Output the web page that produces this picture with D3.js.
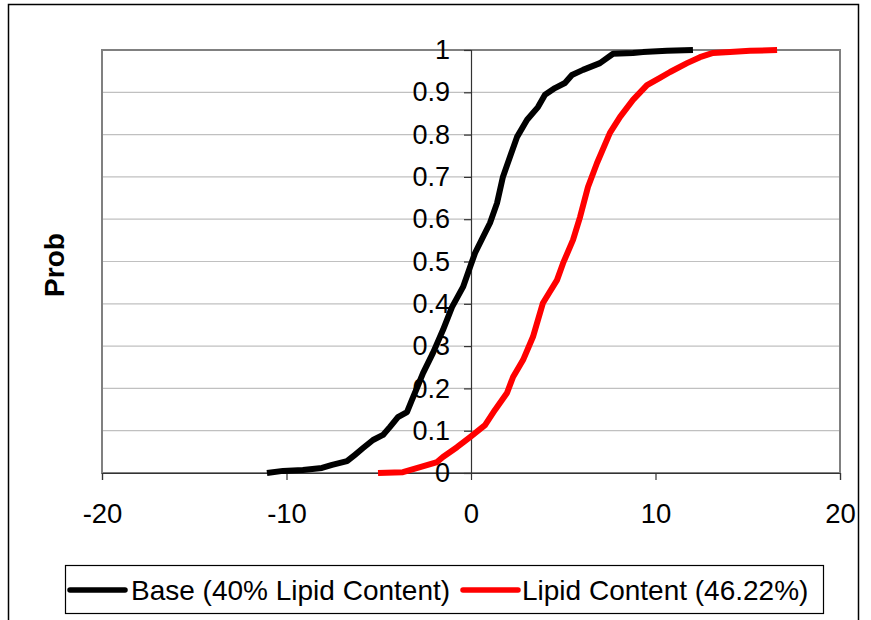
<!DOCTYPE html>
<html>
<head>
<meta charset="utf-8">
<script src="https://cdn.jsdelivr.net/npm/d3@7"></script>
<style>
  html, body { margin: 0; padding: 0; background: #fff; }
  svg { display: block; font-family: "Liberation Sans", Arial, sans-serif; }
</style>
</head>
<body>
<svg id="chart" width="871" height="620"></svg>
<script>
// Cumulative probability curves (x value, cumulative probability)
const baseX = [-11.06, -10.19, -9.11, -8.08, -7.53, -6.72, -6.29, -5.85, -5.31, -4.77, -4.39, -3.96, -3.47, -3.20, -2.93, -2.60, -2.06, -1.52, -1.03, -0.43, -0.05, 0.22, 0.65, 1.03, 1.41, 1.73, 2.11, 2.49, 3.04, 3.63, 4.01, 4.55, 5.09, 5.47, 6.07, 6.99, 7.70, 8.78, 9.32, 10.62, 12.03];
const baseP = [0, 0.005, 0.007, 0.012, 0.019, 0.028, 0.043, 0.059, 0.078, 0.090, 0.109, 0.132, 0.144, 0.173, 0.201, 0.236, 0.284, 0.338, 0.392, 0.440, 0.487, 0.520, 0.558, 0.591, 0.638, 0.700, 0.747, 0.794, 0.835, 0.865, 0.894, 0.910, 0.922, 0.941, 0.953, 0.969, 0.991, 0.993, 0.995, 0.998, 1.0];

const lipidX = [-5.04, -3.69, -2.76, -1.84, -1.52, -0.76, -0.05, 0.76, 1.30, 1.95, 2.28, 2.82, 3.36, 3.90, 4.66, 4.99, 5.53, 5.91, 6.34, 6.83, 7.53, 8.08, 8.78, 9.54, 10.24, 10.79, 11.71, 12.41, 13.12, 14.04, 15.12, 16.59];
const lipidP = [0, 0.002, 0.014, 0.026, 0.038, 0.061, 0.085, 0.113, 0.149, 0.189, 0.227, 0.267, 0.322, 0.402, 0.456, 0.496, 0.551, 0.605, 0.676, 0.733, 0.804, 0.842, 0.882, 0.917, 0.934, 0.948, 0.969, 0.983, 0.993, 0.995, 0.998, 1.0];

const seriesNames = ["Base (40% Lipid Content)", "Lipid Content (46.22%)"];
const seriesColors = ["#000000", "#ff0000"];

const xTicks = [-20, -10, 0, 10, 20];
const yTicks = [0, 0.1, 0.2, 0.3, 0.4, 0.5, 0.6, 0.7, 0.8, 0.9, 1];
const yTickLabels = ["0", "0.1", "0.2", "0.3", "0.4", "0.5", "0.6", "0.7", "0.8", "0.9", "1"];
const xTickLabels = ["-20", "-10", "0", "10", "20"];

const svg = d3.select("#chart");

// outer chart frame
svg.append("rect")
  .attr("x", 8.5).attr("y", 4.5).attr("width", 850).attr("height", 640)
  .attr("fill", "#fff").attr("stroke", "#000").attr("stroke-width", 1.5);

const plot = { left: 102, top: 50, right: 840, bottom: 473 };

const x = d3.scaleLinear().domain([-20, 20]).range([plot.left, plot.right]);
const y = d3.scaleLinear().domain([0, 1]).range([plot.bottom, plot.top]);

// horizontal gridlines
svg.append("g")
  .selectAll("line")
  .data(yTicks.filter(d => d > 0 && d < 1))
  .join("line")
  .attr("x1", plot.left).attr("x2", plot.right)
  .attr("y1", d => y(d)).attr("y2", d => y(d))
  .attr("stroke", "#c0c0c0").attr("stroke-width", 1.2);

// plot area border
svg.append("rect")
  .attr("x", plot.left).attr("y", plot.top)
  .attr("width", plot.right - plot.left).attr("height", plot.bottom - plot.top)
  .attr("fill", "none").attr("stroke", "#808080").attr("stroke-width", 2);

// x axis along p = 0
const xAxis = svg.append("g")
  .attr("transform", `translate(0,${y(0)})`)
  .call(d3.axisBottom(x).tickValues(xTicks).tickFormat((d, i) => xTickLabels[i]).tickSize(7).tickPadding(23));
xAxis.select(".domain").attr("stroke", "#333").attr("stroke-width", 1.2);
xAxis.selectAll(".tick line").attr("stroke", "#333").attr("stroke-width", 1.2);
xAxis.selectAll("text").attr("font-size", 27.5).attr("fill", "#000")
  .attr("font-family", "Liberation Sans, Arial, sans-serif");

// y axis along x = 0
const yAxis = svg.append("g")
  .attr("transform", `translate(${x(0)},0)`)
  .call(d3.axisLeft(y).tickValues(yTicks).tickFormat((d, i) => yTickLabels[i]).tickSize(7).tickPadding(14));
yAxis.select(".domain").attr("stroke", "#333").attr("stroke-width", 1.2);
yAxis.selectAll(".tick line").attr("stroke", "#333").attr("stroke-width", 1.2);
yAxis.selectAll("text").attr("font-size", 27).attr("fill", "#000")
  .attr("font-family", "Liberation Sans, Arial, sans-serif");

// curves
const line = d3.line().x(d => x(d[0])).y(d => y(d[1]));
const series = [
  d3.zip(baseX, baseP),
  d3.zip(lipidX, lipidP)
];
svg.append("g")
  .selectAll("path")
  .data(series)
  .join("path")
  .attr("d", line)
  .attr("fill", "none")
  .attr("stroke", (d, i) => seriesColors[i])
  .attr("stroke-width", 6)
  .attr("stroke-linejoin", "round")
  .attr("stroke-linecap", "butt");

// y axis title
svg.append("text")
  .attr("transform", "translate(64,265) rotate(-90)")
  .attr("text-anchor", "middle")
  .attr("font-size", 28).attr("font-weight", "bold")
  .text("Prob");

// legend
const legend = svg.append("g");
legend.append("rect")
  .attr("x", 65.5).attr("y", 565.5).attr("width", 758).attr("height", 48)
  .attr("fill", "#fff").attr("stroke", "#000").attr("stroke-width", 1.2);
const legendItems = [
  { lx: 70, tx: 131 },
  { lx: 463, tx: 522 }
];
legendItems.forEach((it, i) => {
  legend.append("line")
    .attr("x1", it.lx).attr("x2", it.lx + 55)
    .attr("y1", 590).attr("y2", 590)
    .attr("stroke", seriesColors[i]).attr("stroke-width", 5.5)
    .attr("stroke-linecap", "round");
  legend.append("text")
    .attr("x", it.tx).attr("y", 600)
    .attr("font-size", 28)
    .text(seriesNames[i]);
});
</script>
</body>
</html>
